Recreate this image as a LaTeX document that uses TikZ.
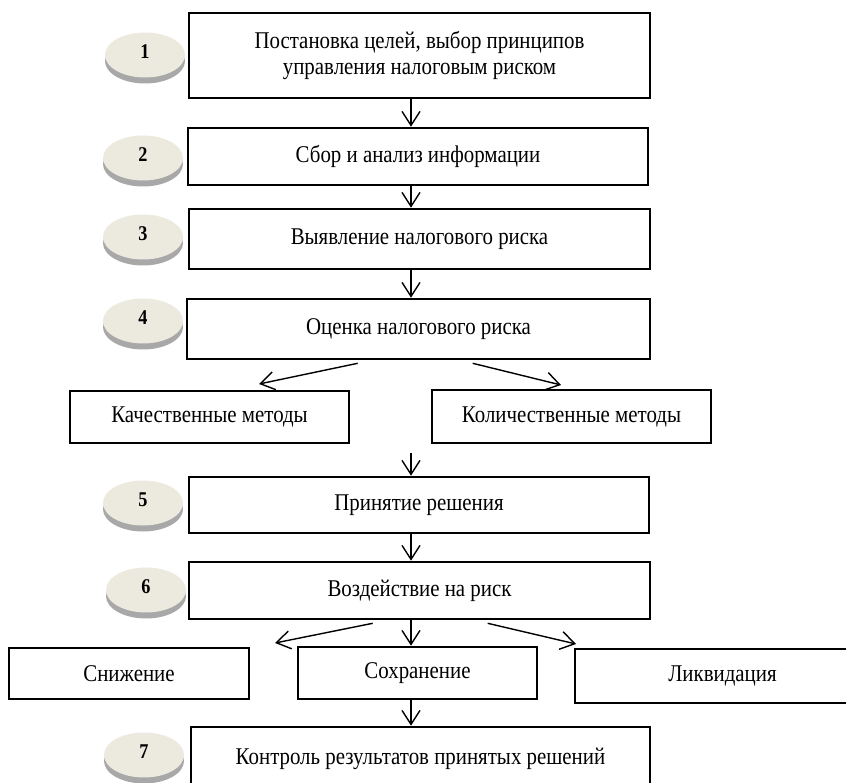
\documentclass[tikz,border=0pt]{standalone}
\usepackage{fontspec}
\setmainfont{Liberation Serif}[FakeStretch=0.87]
\usetikzlibrary{arrows.meta,shapes.geometric,shadows,calc}
\definecolor{face}{HTML}{ECEADF}
\definecolor{rim}{HTML}{A8A8A8}
\begin{document}
\begin{tikzpicture}[x=1pt,y=-1pt,
  box/.style={draw=black, line width=2.6pt, fill=white, inner sep=0pt, align=center,
    font=\fontsize{24}{26.5}\selectfont},
  badge/.style={ellipse, fill=face, minimum width=80pt, minimum height=45pt, inner sep=0pt,
    font=\fontsize{21}{24}\selectfont\bfseries, text depth=6pt,
    drop shadow={shadow xshift=0pt, shadow yshift=-6pt, fill=rim, opacity=1}},
  arr/.style={line width=1.4pt, -{Straight Barb[length=14pt,width=18pt,line width=1.4pt]}}
]
\useasboundingbox (0,0) rectangle (846,783);
\clip (0,0) rectangle (846,783);
\fill[white] (0,0) rectangle (846,783);

% main boxes
\node[box, minimum width=461pt, minimum height=85pt] (b1) at (419.5,55.5)
  {Постановка целей, выбор принципов\\управления налоговым риском};
\node[box, minimum width=460pt, minimum height=57pt] (b2) at (418,156.5) {Сбор и анализ информации};
\node[box, minimum width=461pt, minimum height=60pt] (b3) at (419.5,239) {Выявление налогового риска};
\node[box, minimum width=463pt, minimum height=60pt] (b4) at (418.5,329) {Оценка налогового риска};
\node[box, minimum width=279pt, minimum height=52pt] (qual) at (209.5,417) {Качественные методы};
\node[box, minimum width=279pt, minimum height=53pt] (quant) at (571.5,416.5) {Количественные методы};
\node[box, minimum width=460pt, minimum height=56pt] (b5) at (419,505) {Принятие решения};
\node[box, minimum width=461pt, minimum height=57pt] (b6) at (419.5,590.5) {Воздействие на риск};
\node[box, minimum width=240pt, minimum height=51pt] (sn) at (129,673.5) {Снижение};
\node[box, minimum width=239pt, minimum height=52pt] (so) at (417.5,673) {Сохранение};
\node[box, minimum width=295pt, minimum height=54pt] (li) at (722.5,676) {Ликвидация};
\node[box, minimum width=459pt, minimum height=63pt] (b7) at (420.5,758.5) {Контроль результатов принятых решений};

% badges
\node[badge] (c1) at (145,55) {1};
\node[badge] (c2) at (143,158) {2};
\node[badge] (c3) at (143,237) {3};
\node[badge] (c4) at (143,321) {4};
\node[badge] (c5) at (143,503) {5};
\node[badge] (c6) at (146,590) {6};
\node[badge] (c7) at (144,755) {7};

% connectors
\coordinate (ax) at (411,0);
\coordinate (s5) at (411,453);
\coordinate (t4l) at (259,384);
\coordinate (t4r) at (561,385);
\coordinate (t6l) at (275,643);
\coordinate (t6r) at (576,644);
\draw[arr] (b1.south -| ax) -- (b2.north -| ax);
\draw[arr] (b2.south -| ax) -- (b3.north -| ax);
\draw[arr] (b3.south -| ax) -- (b4.north -| ax);
\draw[arr] ($(b4.south west)+(172,3)$) -- (t4l);
\draw[arr] ($(b4.south west)+(287,3)$) -- (t4r);
\draw[arr] (s5) -- (b5.north -| ax);
\draw[arr] (b5.south -| ax) -- (b6.north -| ax);
\draw[arr] ($(b6.south west)+(185,3)$) -- (t6l);
\draw[arr] (b6.south -| ax) -- (so.north -| ax);
\draw[arr] ($(b6.south west)+(300,3)$) -- (t6r);
\draw[arr] (so.south -| ax) -- (b7.north -| ax);
\end{tikzpicture}
\end{document}
